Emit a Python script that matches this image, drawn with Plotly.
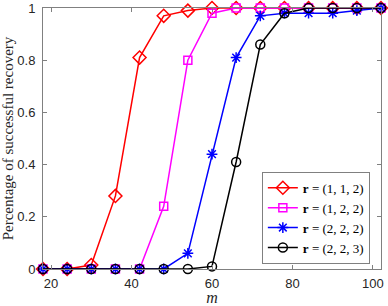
import plotly.graph_objects as go

m = [18, 24, 30, 36, 42, 48, 54, 60, 66, 72, 78, 84, 90, 96, 102]
r112 = [0, 0, 0.015, 0.28, 0.81, 0.97, 0.99, 1, 1, 1, 1, 1, 1, 1, 1]
r122 = [0, 0, 0, 0, 0, 0.24, 0.80, 0.98, 1, 1, 1, 1, 1, 1, 1]
r222 = [0, 0, 0, 0, 0, 0, 0.06, 0.44, 0.81, 0.97, 0.98, 0.98, 0.98, 0.99, 1]
r223 = [0, 0, 0, 0, 0, 0, 0, 0.01, 0.41, 0.86, 0.98, 1, 1, 1, 1]
labels = ["<b>r</b> = (1, 1, 2)", "<b>r</b> = (1, 2, 2)", "<b>r</b> = (2, 2, 2)", "<b>r</b> = (2, 2, 3)"]
xticks = [20, 40, 60, 80, 100]
yticks = [0, 0.2, 0.4, 0.6, 0.8, 1]

series = [
    (r112, labels[0], "#ff0000", "diamond-open", 10),
    (r122, labels[1], "#ff00ff", "square-open", 8),
    (r222, labels[2], "#0000ff", "asterisk-open", 9),
    (r223, labels[3], "#000000", "circle-open", 9),
]

fig = go.Figure()
for y, name, color, sym, size in series:
    fig.add_trace(go.Scatter(
        x=m, y=y, name=name, mode="lines+markers", cliponaxis=False,
        line=dict(color=color, width=1.5),
        marker=dict(symbol=sym, size=size, color=color, line=dict(color=color, width=1.5)),
    ))

axis_common = dict(
    showline=True, linecolor="#808080", linewidth=1, mirror="ticks",
    ticks="inside", ticklen=4, tickcolor="#808080",
    showgrid=False, zeroline=False, automargin=False,
    tickfont=dict(family="Liberation Sans, Arial", size=13, color="#262626"),
)

fig.update_layout(
    width=388, height=306,
    margin=dict(l=43, r=7, t=8, b=37),
    paper_bgcolor="white", plot_bgcolor="white",
    xaxis=dict(range=[18, 102], tickvals=xticks, ticklabelstandoff=2,
               title=dict(text="<i>m</i>", font=dict(family="Liberation Serif, serif", size=16, color="#262626"), standoff=0),
               **axis_common),
    yaxis=dict(range=[0, 1], tickvals=yticks, ticktext=["0", "0.2", "0.4", "0.6", "0.8", "1"],
               ticklabelstandoff=4,
               title=dict(text="Percentage of successful recovery", font=dict(family="Liberation Serif, serif", size=15, color="#262626"), standoff=2),
               **axis_common),
    legend=dict(x=0.967, y=0.02, xanchor="right", yanchor="bottom",
                bgcolor="white", bordercolor="#808080", borderwidth=1,
                font=dict(family="Liberation Serif, serif", size=13, color="#000000"),
                itemwidth=30, tracegroupgap=0),
    showlegend=True,
)

fig.write_html("out.html", config={"displayModeBar": False},
               post_script="document.body.style.margin='0';")
